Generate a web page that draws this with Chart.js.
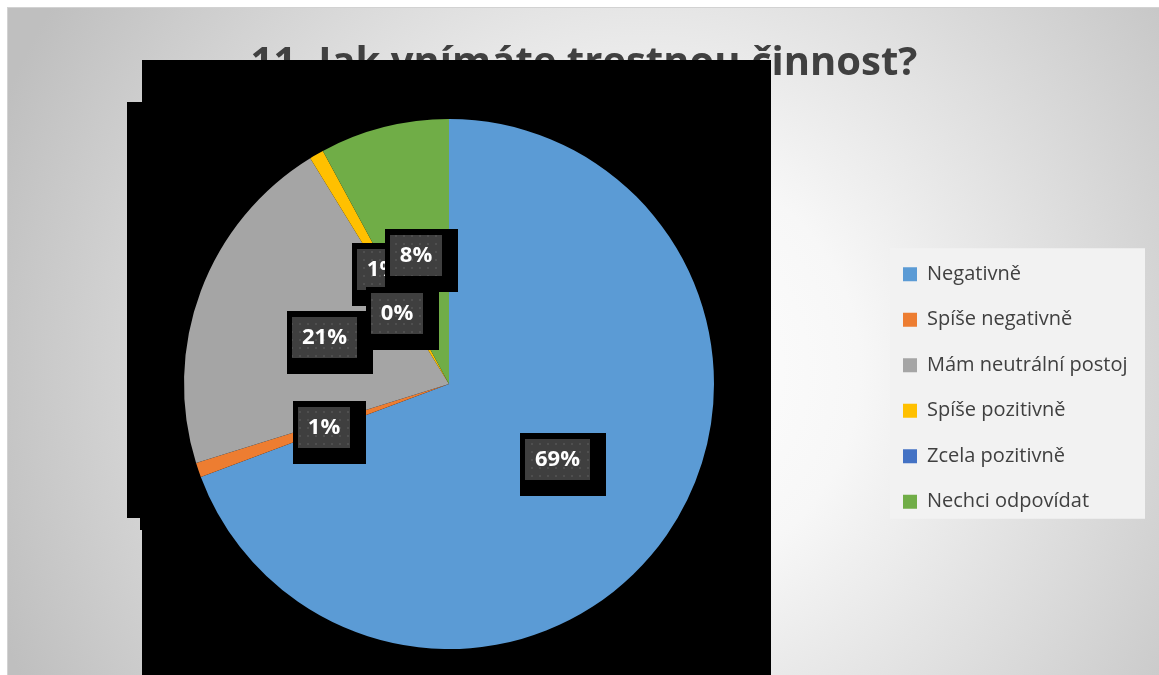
<!DOCTYPE html>
<html lang="cs">
<head>
<meta charset="utf-8">
<title>11. Jak vnímáte trestnou činnost?</title>
<script src="https://cdn.jsdelivr.net/npm/chart.js@4.4.1/dist/chart.umd.min.js"></script>
<style>
  html, body { margin: 0; padding: 0; background: #fff; }
  canvas { display: block; }
</style>
</head>
<body>
<canvas id="graf" width="1159" height="675"></canvas>
<script>
var nadpis = "11. Jak vnímáte trestnou činnost?";
var odpovedi = ["Negativně", "Spíše negativně", "Mám neutrální postoj", "Spíše pozitivně", "Zcela pozitivně", "Nechci odpovídat"];
var pocty = [79, 1, 24, 1, 0, 9];
var barvy = ["#5b9bd5", "#ed7d31", "#a5a5a5", "#ffc000", "#4472c4", "#70ad47"];

// posun popisku, kde by se překrýval se sousedem
var posunPopisku = { 4: [11, 46] };

var soucet = pocty.reduce(function(a, b) { return a + b; }, 0);

function procenta(v) {
	return Math.round(v / soucet * 100) + "%";
}

// tečkovaná výplň rámečků s popisky
var vzorPlatno = document.createElement("canvas");
vzorPlatno.width = 8;
vzorPlatno.height = 8;
var vctx = vzorPlatno.getContext("2d");
vctx.fillStyle = "#3f3f3f";
vctx.fillRect(0, 0, 8, 8);
vctx.fillStyle = "#4f4f4f";
vctx.fillRect(3, 3, 2, 2);
var vzor = vctx.createPattern(vzorPlatno, "repeat");

var pozadi = {
	id: "pozadi",
	beforeDraw: function(chart) {
		var ctx = chart.ctx, w = chart.width, h = chart.height;
		ctx.save();
		ctx.fillStyle = "#ffffff";
		ctx.fillRect(0, 0, w, h);
		ctx.fillStyle = "#d2d2d2";
		ctx.fillRect(7, 7, w - 7, h - 7);
		var g = ctx.createRadialGradient(650, 370, 0, 650, 370, 700);
		g.addColorStop(0, "#ffffff");
		g.addColorStop(0.3, "#f7f7f7");
		g.addColorStop(1, "#bfbfbf");
		ctx.fillStyle = g;
		ctx.fillRect(8, 8, w - 8, h - 8);

		// světlý podklad legendy
		var lg = chart.legend;
		if (lg && lg.legendHitBoxes && lg.legendHitBoxes.length) {
			var prvni = lg.legendHitBoxes[0];
			var posledni = lg.legendHitBoxes[lg.legendHitBoxes.length - 1];
			ctx.fillStyle = "#f2f2f2";
			ctx.fillRect(prvni.left - 13, prvni.top - 16, 255, posledni.top + posledni.height - prvni.top + 23);
		}
		ctx.restore();
	}
};

// černé plochy za koláčem
var cerne = {
	id: "cerne",
	beforeDatasetsDraw: function(chart) {
		var ctx = chart.ctx;
		ctx.save();
		ctx.fillStyle = "#000";
		ctx.fillRect(142, 60, 629, 615);
		ctx.fillRect(127, 102, 15, 416);
		ctx.fillRect(140, 518, 2, 12);
		ctx.restore();
	}
};

var popisky = {
	id: "popisky",
	afterDatasetsDraw: function(chart) {
		var ctx = chart.ctx;
		var oblouky = chart.getDatasetMeta(0).data;
		ctx.save();
		ctx.font = 'bold 22px "Open Sans"';
		ctx.textAlign = "center";
		ctx.textBaseline = "middle";
		oblouky.forEach(function(arc, i) {
			var p = arc.tooltipPosition();
			var posun = posunPopisku[i] || [0, 0];
			var x = p.x + posun[0], y = p.y + posun[1];
			var text = procenta(pocty[i]);
			var sirka = Math.round(ctx.measureText(text).width + 20), vyska = 41;
			var x0 = Math.round(x - sirka / 2), y0 = Math.round(y - vyska / 2);
			ctx.fillStyle = "#000";
			ctx.fillRect(x0 - 5, y0 - 6, sirka + 21, vyska + 22);
			ctx.fillStyle = vzor;
			ctx.fillRect(x0, y0, sirka, vyska);
			ctx.fillStyle = "#fff";
			ctx.fillText(text, x0 + sirka / 2, y0 + vyska / 2);
		});
		ctx.restore();
	}
};

// pevná šířka legendy, aby koláč zůstal na svém místě,
// a legenda svisle jen v rozsahu plochy grafu
var sirkaLegendy = {
	id: "sirkaLegendy",
	beforeLayout: function(chart) {
		var lg = chart.legend;
		if (lg && !lg._upraveno) {
			var fit = lg.fit;
			lg.fit = function() {
				fit.call(this);
				this.width = 270;
			};
			lg._upraveno = true;
		}
	},
	afterLayout: function(chart) {
		if (chart.legend) {
			chart.legend.top = chart.chartArea.top + 8;
		}
	}
};

new Chart(document.getElementById("graf"), {
	type: "pie",
	data: {
		labels: odpovedi,
		datasets: [{
			data: pocty,
			backgroundColor: barvy,
			borderWidth: 0,
			hoverOffset: 0
		}]
	},
	options: {
		responsive: false,
		animation: false,
		layout: { padding: { left: 20.5, right: 11.5, top: 8, bottom: 26 } },
		plugins: {
			title: {
				display: true,
				text: nadpis,
				color: "#404040",
				font: { family: '"Open Sans"', size: 40, weight: "bold", lineHeight: 1.2 },
				padding: { top: 31.5, bottom: 31.5 }
			},
			legend: {
				position: "right",
				labels: {
					color: "#404040",
					font: { family: '"Open Sans"', size: 20 },
					boxWidth: 14,
					boxHeight: 14,
					padding: 25.5
				}
			},
			tooltip: { enabled: false }
		}
	},
	plugins: [pozadi, cerne, popisky, sirkaLegendy]
});
</script>
</body>
</html>
